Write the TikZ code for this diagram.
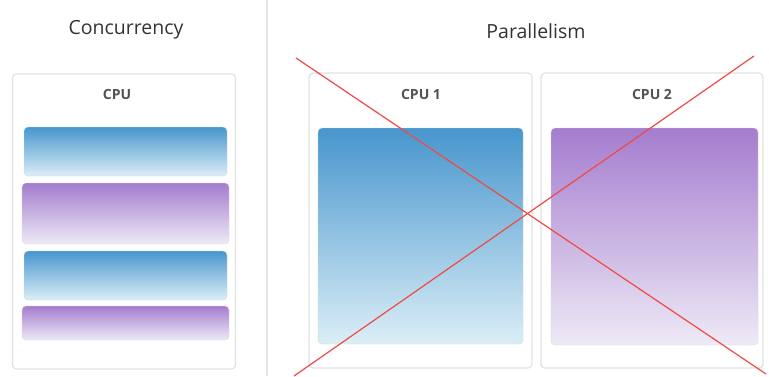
\documentclass[tikz,border=0pt]{standalone}
\usepackage{fontspec}
\setmainfont{Open Sans}
\definecolor{boxline}{HTML}{E2E2E2}
\definecolor{sepline}{HTML}{E6E6E6}
\definecolor{bluetop}{HTML}{4796CD}
\definecolor{bluebot}{HTML}{DCEEF7}
\definecolor{purptop}{HTML}{A47CCE}
\definecolor{purpbot}{HTML}{EEEAF6}
\definecolor{crossred}{HTML}{F04A44}
\definecolor{txt}{HTML}{333333}
\begin{document}
\begin{tikzpicture}[x=1pt,y=-1pt,
  cpubox/.style={draw=boxline, line width=1.2pt, rounded corners=4pt, fill=white, inner sep=0pt},
  bluebar/.style={draw=bluebot!80!gray, line width=0.4pt, rounded corners=4pt, top color=bluetop, bottom color=bluebot, inner sep=0pt},
  purpbar/.style={draw=purpbot!80!gray, line width=0.4pt, rounded corners=4pt, top color=purptop, bottom color=purpbot, inner sep=0pt},
  title/.style={font=\fontsize{19.5}{22}\selectfont, text=txt},
  cpulabel/.style={font=\fontsize{14}{16}\selectfont\bfseries, text=txt!85!white},
  cross/.style={draw=crossred, line width=1.2pt}]
\fill[white] (0,0) rectangle (769,376);
\useasboundingbox (0,0) rectangle (769,376);
% separator
\coordinate (septop) at (267,0);
\coordinate (sepbot) at (267,376);
\draw[sepline, line width=1.8pt] (septop) -- (sepbot);
% titles
\node[title] (tconc) at (126,30) {Concurrency};
\node[title] (tpar) at (536,31) {Parallelism};
% left CPU
\node[cpubox, minimum width=223pt, minimum height=295pt] (cpu) at (124,221.5) {};
\node[cpulabel] (lcpu) at (117,94) {CPU};
\node[bluebar, minimum width=203pt, minimum height=49pt] (b1) at (125.5,151.5) {};
\node[purpbar, minimum width=207pt, minimum height=61pt] (p1) at (125.5,213.5) {};
\node[bluebar, minimum width=203pt, minimum height=49pt] (b2) at (125.5,275.5) {};
\node[purpbar, minimum width=207pt, minimum height=34pt] (p2) at (125.5,323) {};
% right CPUs
\node[cpubox, minimum width=223pt, minimum height=295pt] (cpua) at (420.5,220.5) {};
\node[cpubox, minimum width=222pt, minimum height=295pt] (cpub) at (652,220.5) {};
\node[cpulabel] (la) at (421,94) {CPU 1};
\node[cpulabel] (lb) at (652,94) {CPU 2};
\node[bluebar, minimum width=205pt, minimum height=216pt] (bb) at (420.5,236) {};
\node[purpbar, minimum width=207pt, minimum height=217pt] (pb) at (654.5,236.5) {};
% cross
\coordinate (c1s) at (296,58);
\coordinate (c1e) at (766,374);
\coordinate (c2s) at (754,56);
\coordinate (c2e) at (294,376);
\draw[cross] (c1s) -- (c1e);
\draw[cross] (c2s) -- (c2e);
\end{tikzpicture}
\end{document}
